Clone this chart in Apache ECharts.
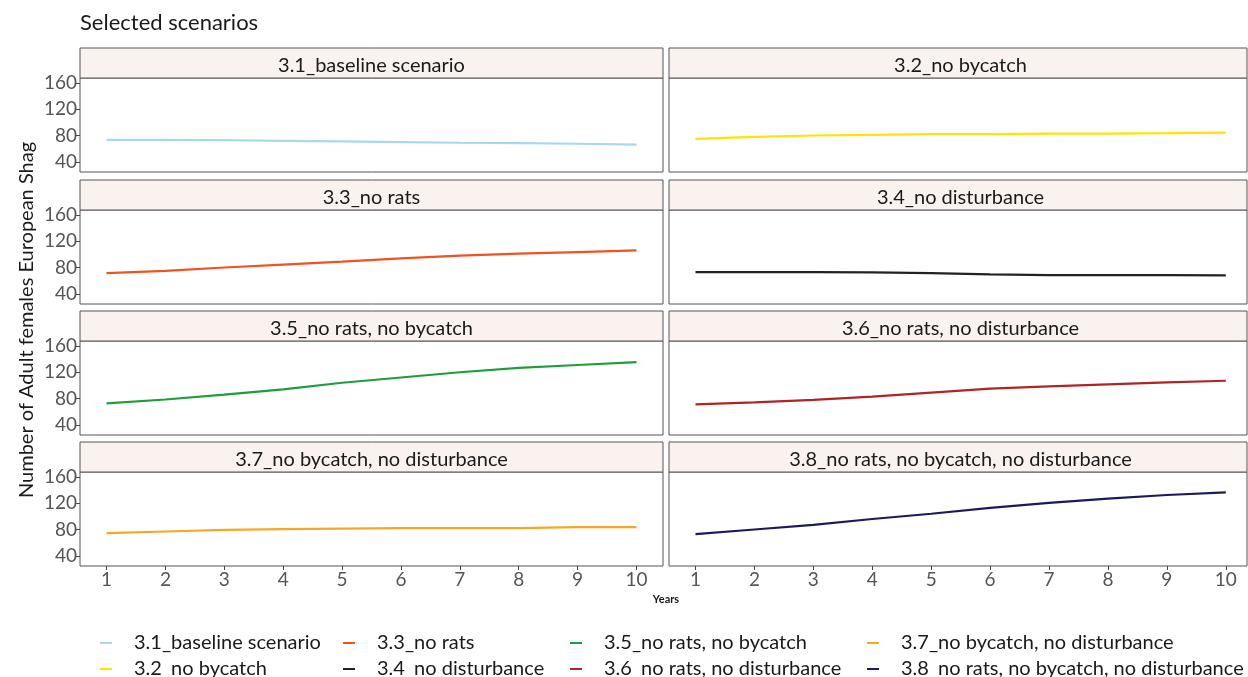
<!DOCTYPE html>
<html>
<head>
<meta charset="utf-8">
<title>Selected scenarios</title>
<script src="https://cdn.jsdelivr.net/npm/echarts@6/dist/echarts.min.js"></script>
<style>
html,body{margin:0;padding:0;background:#fff;}
#main{width:1248px;height:677px;}
</style>
</head>
<body>
<div id="main"></div>
<script>
// data
var years = [1, 2, 3, 4, 5, 6, 7, 8, 9, 10];
var yTicks = [40, 80, 120, 160];
var scenarios = [
    '3.1_baseline scenario',
    '3.2_no bycatch',
    '3.3_no rats',
    '3.4_no disturbance',
    '3.5_no rats, no bycatch',
    '3.6_no rats, no disturbance',
    '3.7_no bycatch, no disturbance',
    '3.8_no rats, no bycatch, no disturbance'
];
var baseline      = [73.5, 73.3, 73, 72, 71, 70, 69, 68.5, 67.5, 66];
var noBycatch     = [75, 78, 80, 81, 82, 82, 83, 83, 83.5, 84.5];
var noRats        = [71.5, 75, 80, 84.5, 89, 94, 98, 101, 103.5, 106];
var noDisturb     = [73, 73, 73, 72.5, 71.5, 69.5, 68.5, 68.5, 68.3, 68];
var ratsBycatch   = [72.7, 78.5, 86, 94, 104, 112, 120, 126.5, 131, 135.5];
var ratsDisturb   = [71, 74, 78, 83, 89, 95, 98.5, 101.5, 104.5, 107];
var bycatchDist   = [74.5, 77, 79.5, 80.5, 81.5, 82, 82, 82, 83.5, 83.5];
var allThree      = [73, 80, 87, 96, 104, 113, 120.5, 127, 132.5, 136.5];

var values = [baseline, noBycatch, noRats, noDisturb, ratsBycatch, ratsDisturb, bycatchDist, allThree];
var colors = ['#A9D8EE', '#FFE400', '#F2521E', '#222222', '#1E9E3A', '#B22424', '#F7A823', '#1C1A5C'];

var FONT = 'Lato';
var rowTops = [78, 210, 341, 472];
var panelH = 94;
var stripH = 30;
var colLeft = [80, 669];
var colWidth = [583, 578];
var colMax = [10.45, 10.36];

var grids = [], xAxes = [], yAxes = [], series = [], graphics = [];

for (var i = 0; i < scenarios.length; i++) {
    var col = i % 2, row = Math.floor(i / 2);
    var bottomRow = row === 3, leftCol = col === 0;
    grids.push({
        left: colLeft[col], top: rowTops[row], width: colWidth[col], height: panelH,
        show: true, borderColor: '#555', borderWidth: 1, backgroundColor: '#fff'
    });
    xAxes.push({
        type: 'value', gridIndex: i, min: 0.55, max: colMax[col],
        axisLine: {show: false},
        axisTick: {show: bottomRow, length: 4, lineStyle: {color: '#444'}, customValues: years},
        axisLabel: {show: bottomRow, customValues: years, margin: 4, fontSize: 19, color: '#555', fontFamily: FONT},
        splitLine: {show: false}
    });
    yAxes.push({
        type: 'value', gridIndex: i, min: 24.5, max: 167.5,
        axisLine: {show: false},
        axisTick: {show: leftCol, length: 4, lineStyle: {color: '#444'}, customValues: yTicks},
        axisLabel: {show: leftCol, customValues: yTicks, margin: 3, fontSize: 19, color: '#555', fontFamily: FONT},
        splitLine: {show: false}
    });
    series.push({
        name: scenarios[i], type: 'line', xAxisIndex: i, yAxisIndex: i,
        data: years.map(function (y, k) { return [y, values[i][k]]; }),
        showSymbol: false, color: colors[i],
        lineStyle: {width: 2.2, color: colors[i]}
    });
    // facet strip
    var sx = colLeft[col], sy = rowTops[row] - stripH;
    graphics.push({
        type: 'rect', shape: {x: sx, y: sy, width: colWidth[col], height: stripH},
        style: {fill: '#F9F2EF', stroke: '#555', lineWidth: 1}, silent: true
    });
    graphics.push({
        type: 'text', x: sx + (col === 0 ? colWidth[0] : 583) / 2, y: sy + stripH / 2 + 3,
        style: {text: scenarios[i], textAlign: 'center', textVerticalAlign: 'middle',
                fontSize: 20, fontFamily: FONT, fill: '#1a1a1a'},
        silent: true
    });
}

graphics.push({
    type: 'text', x: 27, y: 320, rotation: Math.PI / 2,
    style: {text: 'Number of Adult females European Shag', textAlign: 'center', textVerticalAlign: 'middle',
            fontSize: 20, fontFamily: FONT, fill: '#1a1a1a'}
});
graphics.push({
    type: 'text', x: 666, y: 599,
    style: {text: 'Years', textAlign: 'center', textVerticalAlign: 'middle',
            fontSize: 11, fontWeight: 'bold', fontFamily: FONT, fill: '#1a1a1a'}
});

// one legend per entry, 4 columns x 2 rows
var legendLeft = [95, 338, 565, 862];
var legendTop = [626, 652];
var legends = scenarios.map(function (name, k) {
    return {
        orient: 'horizontal', left: legendLeft[Math.floor(k / 2)], top: legendTop[k % 2],
        data: [name],
        icon: 'rect', itemWidth: 12, itemHeight: 2,
        selectedMode: false,
        textStyle: {fontSize: 20, fontFamily: FONT, color: '#1a1a1a', lineHeight: 24, padding: [0, 0, 0, 17]}
    };
});

var myChart = echarts.init(document.getElementById('main'));
myChart.setOption({
    animation: false,
    title: {
        text: 'Selected scenarios', left: 75, top: 7,
        textStyle: {fontSize: 22, fontWeight: 'normal', color: '#1a1a1a', fontFamily: FONT}
    },
    legend: legends,
    grid: grids,
    xAxis: xAxes,
    yAxis: yAxes,
    series: series,
    graphic: graphics
});
</script>
</body>
</html>
